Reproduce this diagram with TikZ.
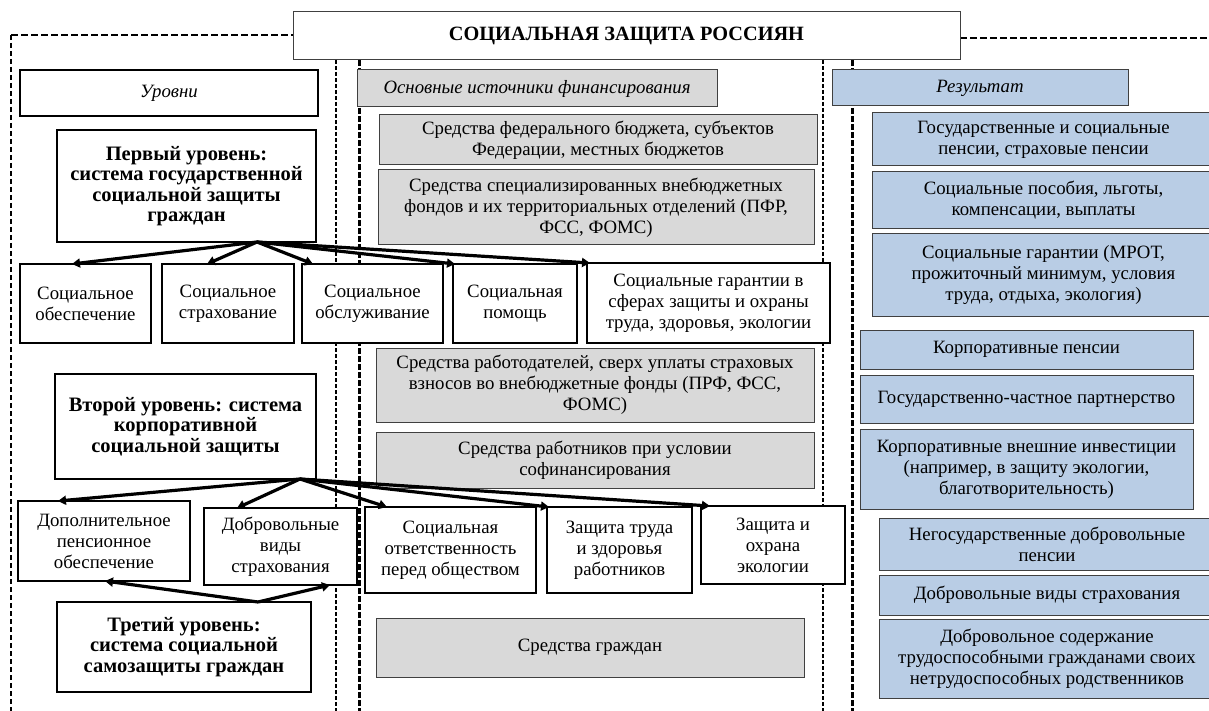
\documentclass[tikz,border=0pt]{standalone}
\usepackage{fontspec}
\setmainfont{Liberation Serif}
\usetikzlibrary{arrows.meta,calc}
\definecolor{grayfill}{HTML}{D9D9D9}
\definecolor{bluefill}{HTML}{B9CDE5}
\definecolor{edgegray}{HTML}{404040}
\newcommand\fs{\fontsize{18.8}{21}\selectfont}
\newcommand\fb{\fontsize{20.5}{20.5}\selectfont\bfseries}
\begin{document}
\begin{tikzpicture}[x=1pt,y=-1pt,
  base/.style={anchor=north west, inner sep=1pt, outer sep=0pt, align=center, font=\fs},
  thickbox/.style={base, draw=black, line width=2.8pt, fill=white},
  thinbox/.style={base, draw=edgegray, line width=1pt, fill=white},
  graybox/.style={base, draw=edgegray, line width=1pt, fill=grayfill},
  bluebox/.style={base, draw=edgegray, line width=1pt, fill=bluefill},
  level/.style={thickbox, font=\fb},
  arr/.style={line width=3.2pt, -{Triangle[length=8pt,width=9pt]}},
  outerdash/.style={line width=1.8pt, dash pattern=on 7pt off 3pt},
  thindash/.style={line width=1.4pt, dash pattern=on 5pt off 3pt},
  middash/.style={line width=2pt, dash pattern=on 4pt off 2pt},
  heavydash/.style={line width=3pt, dash pattern=on 6pt off 2pt}
]
\useasboundingbox (0,0) rectangle (1209,711);
% frame lines
\draw[outerdash] (11,35) -- (293,35);
\draw[outerdash] (960,38) -- (1212,38);
\draw[thindash] (11,35) -- (11,715);
\draw[middash] (336,60) -- (336,715);
\draw[heavydash] (359,60) -- (359,715);
\draw[middash] (823,60) -- (823,715);
\draw[heavydash] (852,60) -- (852,715);

% title
\node[thinbox, minimum width=667pt, minimum height=48pt, font=\fontsize{20.3}{22}\selectfont\bfseries] (title) at (293,12) {СОЦИАЛЬНАЯ ЗАЩИТА РОССИЯН};

% headers
\node[thickbox, minimum width=298pt, minimum height=46pt, font=\fs\itshape] (hlev) at (20,70) {Уровни};
\node[graybox, minimum width=360pt, minimum height=37pt, font=\fs\itshape] (hsrc) at (357,70) {Основные источники финансирования};
\node[bluebox, minimum width=296pt, minimum height=36pt, font=\fs\itshape] (hres) at (832,70) {Результат};

% middle column
\node[graybox, minimum width=438pt, minimum height=50pt] (m1) at (379,115) {Средства федерального бюджета, субъектов\\Федерации, местных бюджетов};
\node[graybox, minimum width=436pt, minimum height=75pt] (m2) at (378,170) {Средства специализированных внебюджетных\\фондов и их территориальных отделений (ПФР,\\ФСС, ФОМС)};
\node[graybox, minimum width=438pt, minimum height=74pt] (m3) at (376,348) {Средства работодателей, сверх уплаты страховых\\взносов во внебюджетные фонды (ПРФ, ФСС,\\ФОМС)};
\node[graybox, minimum width=438pt, minimum height=56pt] (m4) at (376,432) {Средства работников при условии\\софинансирования};
\node[graybox, minimum width=428pt, minimum height=59pt] (m5) at (376,618) {Средства граждан};

% right column
\node[bluebox, minimum width=343pt, minimum height=53pt] (r1) at (872,113) {Государственные и социальные\\пенсии, страховые пенсии};
\node[bluebox, minimum width=343pt, minimum height=57pt] (r2) at (872,172) {Социальные пособия, льготы,\\компенсации, выплаты};
\node[bluebox, minimum width=343pt, minimum height=82pt] (r3) at (872,234) {Социальные гарантии (МРОТ,\\прожиточный минимум, условия\\труда, отдыха, экология)};
\node[bluebox, minimum width=333pt, minimum height=39pt] (r4) at (860,330) {Корпоративные пенсии};
\node[bluebox, minimum width=333pt, minimum height=48pt] (r5) at (860,375) {Государственно-частное партнерство};
\node[bluebox, minimum width=333pt, minimum height=80pt] (r6) at (860,429) {Корпоративные внешние инвестиции\\(например, в защиту экологии,\\благотворительность)};
\node[bluebox, minimum width=336pt, minimum height=52pt] (r7) at (879,518) {Негосударственные добровольные\\пенсии};
\node[bluebox, minimum width=336pt, minimum height=40pt] (r8) at (879,575) {Добровольные виды страхования};
\node[bluebox, minimum width=336pt, minimum height=79pt] (r9) at (879,619) {Добровольное содержание\\трудоспособными гражданами своих\\нетрудоспособных родственников};

% left column
\node[level, minimum width=259pt, minimum height=112pt] (L1) at (57,130) {Первый уровень:\\система государственной\\социальной защиты\\граждан};
\node[thickbox, minimum width=131pt, minimum height=79pt] (a1) at (20,264) {Социальное\\обеспечение};
\node[thickbox, minimum width=132pt, minimum height=79pt] (a2) at (162,264) {Социальное\\страхование};
\node[thickbox, minimum width=141pt, minimum height=79pt] (a3) at (302,264) {Социальное\\обслуживание};
\node[thinbox, draw=black, line width=1.2pt, minimum width=124pt, minimum height=79pt] (a4) at (453,264) {Социальная\\помощь};
\node[thickbox, minimum width=243pt, minimum height=80pt] (a5) at (587,263) {Социальные гарантии в\\сферах защиты и охраны\\труда, здоровья, экологии};

\node[level, minimum width=261pt, minimum height=105pt] (L2) at (55,374) {Второй уровень: система\\корпоративной\\социальной защиты};
\node[thickbox, minimum width=172pt, minimum height=80pt] (b1) at (18,501) {Дополнительное\\пенсионное\\обеспечение};
\node[thickbox, minimum width=153pt, minimum height=77pt] (b2) at (204,508) {Добровольные\\виды\\страхования};
\node[thickbox, minimum width=171pt, minimum height=86pt] (b3) at (365,507) {Социальная\\ответственность\\перед обществом};
\node[thickbox, minimum width=145pt, minimum height=86pt] (b4) at (547,507) {Защита труда\\и здоровья\\работников};
\node[thickbox, minimum width=144pt, minimum height=78pt] (b5) at (701,506) {Защита и\\охрана\\экологии};

\node[level, minimum width=254pt, minimum height=90pt] (L3) at (57,602) {Третий уровень:\\система социальной\\самозащиты граждан};

% arrows
\coordinate (o1) at ($(L1.south west)+(200,0)$);
\draw[arr] (o1) -- ($(a1.north west)+(52,0)$);
\draw[arr] (o1) -- ($(a2.north west)+(45,0)$);
\draw[arr] (o1) -- ($(a3.north west)+(11,0)$);
\draw[arr] (o1) -- ($(a4.north west)+(2,0)$);
\draw[arr] (o1) -- ($(a5.north west)+(3,0)$);

\coordinate (o2) at ($(L2.south west)+(245,0)$);
\draw[arr] (o2) -- ($(b1.north west)+(40,0)$);
\draw[arr] (o2) -- ($(b2.north west)+(33,0)$);
\draw[arr] (o2) -- ($(b3.north west)+(22,0)$);
\draw[arr] (o2) -- ($(b4.north west)+(2,0)$);
\draw[arr] (o2) -- ($(b5.north west)+(9,0)$);

\coordinate (o3) at ($(L3.north west)+(201,0)$);
\draw[arr] (o3) -- ($(b1.south west)+(87,0)$);
\draw[arr] (o3) -- ($(b2.south west)+(126,0)$);
\end{tikzpicture}
\end{document}
